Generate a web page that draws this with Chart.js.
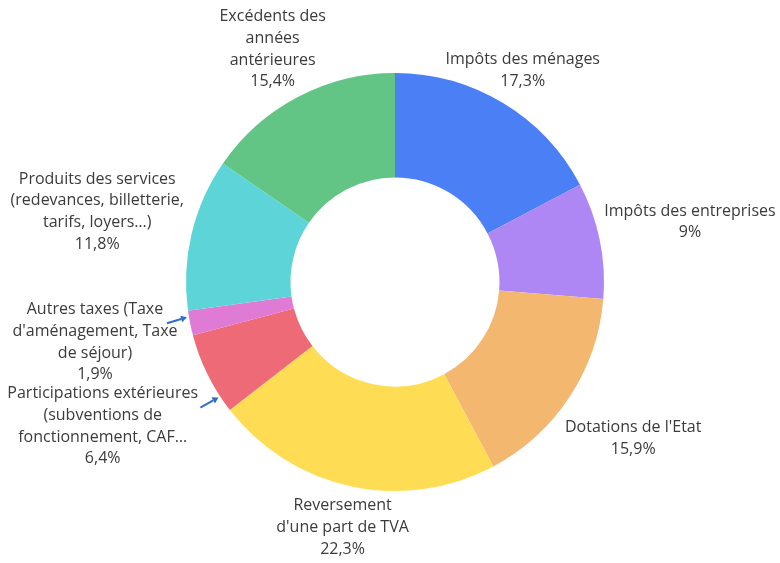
<!DOCTYPE html>
<html>
<head>
<meta charset="utf-8">
<script src="https://cdn.jsdelivr.net/npm/chart.js@4.4.1/dist/chart.umd.min.js"></script>
<style>
  html, body { margin: 0; padding: 0; background: #ffffff; }
  #wrap { width: 780px; height: 563px; }
</style>
</head>
<body>
<div id="wrap"><canvas id="c" width="780" height="563"></canvas></div>
<script>
// ---- Data ----
const categories = [
  ["Impôts des ménages"],
  ["Impôts des entreprises"],
  ["Dotations de l'Etat"],
  ["Reversement", "d'une part de TVA"],
  ["Participations extérieures", "(subventions de", "fonctionnement, CAF…"],
  ["Autres taxes (Taxe", "d'aménagement, Taxe", "de séjour)"],
  ["Produits des services", "(redevances, billetterie,", "tarifs, loyers…)"],
  ["Excédents des", "années", "antérieures"]
];
const shares = [17.3, 9, 15.9, 22.3, 6.4, 1.9, 11.8, 15.4];
const sliceColors = ["#4a7ff6", "#ae87f5", "#f3b76f", "#fedd55", "#ee6a77", "#e07bd5", "#5dd5d8", "#62c586"];

// ---- Label placement (distance of label centre beyond the outer radius) ----
const labelDistance = [38, 92, 76, 42, 117, 97, 97, 54];
// Arrows pointing at small slices: slice index, position within slice, tail offset
const arrows = [
  { index: 5, frac: 0.75, dx: -20, dy: 6 },
  { index: 4, frac: 0.2, dx: -18, dy: 10 }
];

const fmt = v => String(v).replace('.', ',') + '%';

const labelPlugin = {
  id: 'outerLabels',
  afterDraw(chart) {
    const ctx = chart.ctx;
    const meta = chart.getDatasetMeta(0);
    ctx.save();
    ctx.font = '16px "Open Sans", "DejaVu Sans", sans-serif';
    ctx.fillStyle = '#3b3b3b';
    ctx.textAlign = 'center';
    ctx.textBaseline = 'middle';
    const lh = 21.7;
    meta.data.forEach((arc, i) => {
      const p = arc.getProps(['x', 'y', 'startAngle', 'endAngle', 'outerRadius'], true);
      const mid = (p.startAngle + p.endAngle) / 2;
      const r = p.outerRadius + labelDistance[i];
      const cx = p.x + Math.cos(mid) * r;
      const cy = p.y + Math.sin(mid) * r;
      const lines = categories[i].concat([fmt(shares[i])]);
      const n = lines.length;
      lines.forEach((t, k) => {
        ctx.fillText(t, cx, cy + (k - (n - 1) / 2) * lh);
      });
    });
    // arrows
    ctx.strokeStyle = '#2f6ec8';
    ctx.fillStyle = '#2f6ec8';
    ctx.lineWidth = 2;
    arrows.forEach(a => {
      const arc = meta.data[a.index];
      const p = arc.getProps(['x', 'y', 'startAngle', 'endAngle', 'outerRadius'], true);
      const ang = p.startAngle + (p.endAngle - p.startAngle) * a.frac;
      const tx = p.x + Math.cos(ang) * (p.outerRadius + 2);
      const ty = p.y + Math.sin(ang) * (p.outerRadius + 2);
      const sx = tx + a.dx, sy = ty + a.dy;
      const dir = Math.atan2(ty - sy, tx - sx);
      const hl = 6;
      const bx = tx - Math.cos(dir) * hl, by = ty - Math.sin(dir) * hl;
      ctx.beginPath();
      ctx.moveTo(sx, sy);
      ctx.lineTo(bx, by);
      ctx.stroke();
      ctx.beginPath();
      ctx.moveTo(tx, ty);
      ctx.lineTo(bx + Math.cos(dir + Math.PI / 2) * 3.5, by + Math.sin(dir + Math.PI / 2) * 3.5);
      ctx.lineTo(bx - Math.cos(dir + Math.PI / 2) * 3.5, by - Math.sin(dir + Math.PI / 2) * 3.5);
      ctx.closePath();
      ctx.fill();
    });
    ctx.restore();
  }
};

new Chart(document.getElementById('c'), {
  type: 'doughnut',
  data: {
    labels: categories.map(c => c.join(' ')),
    datasets: [{
      data: shares,
      backgroundColor: sliceColors,
      borderWidth: 0
    }]
  },
  options: {
    responsive: false,
    animation: false,
    cutout: '50%',
    layout: { padding: { left: 186, right: 176, top: 73, bottom: 72 } },
    plugins: {
      legend: { display: false },
      tooltip: { enabled: false }
    }
  },
  plugins: [labelPlugin]
});
</script>
</body>
</html>
